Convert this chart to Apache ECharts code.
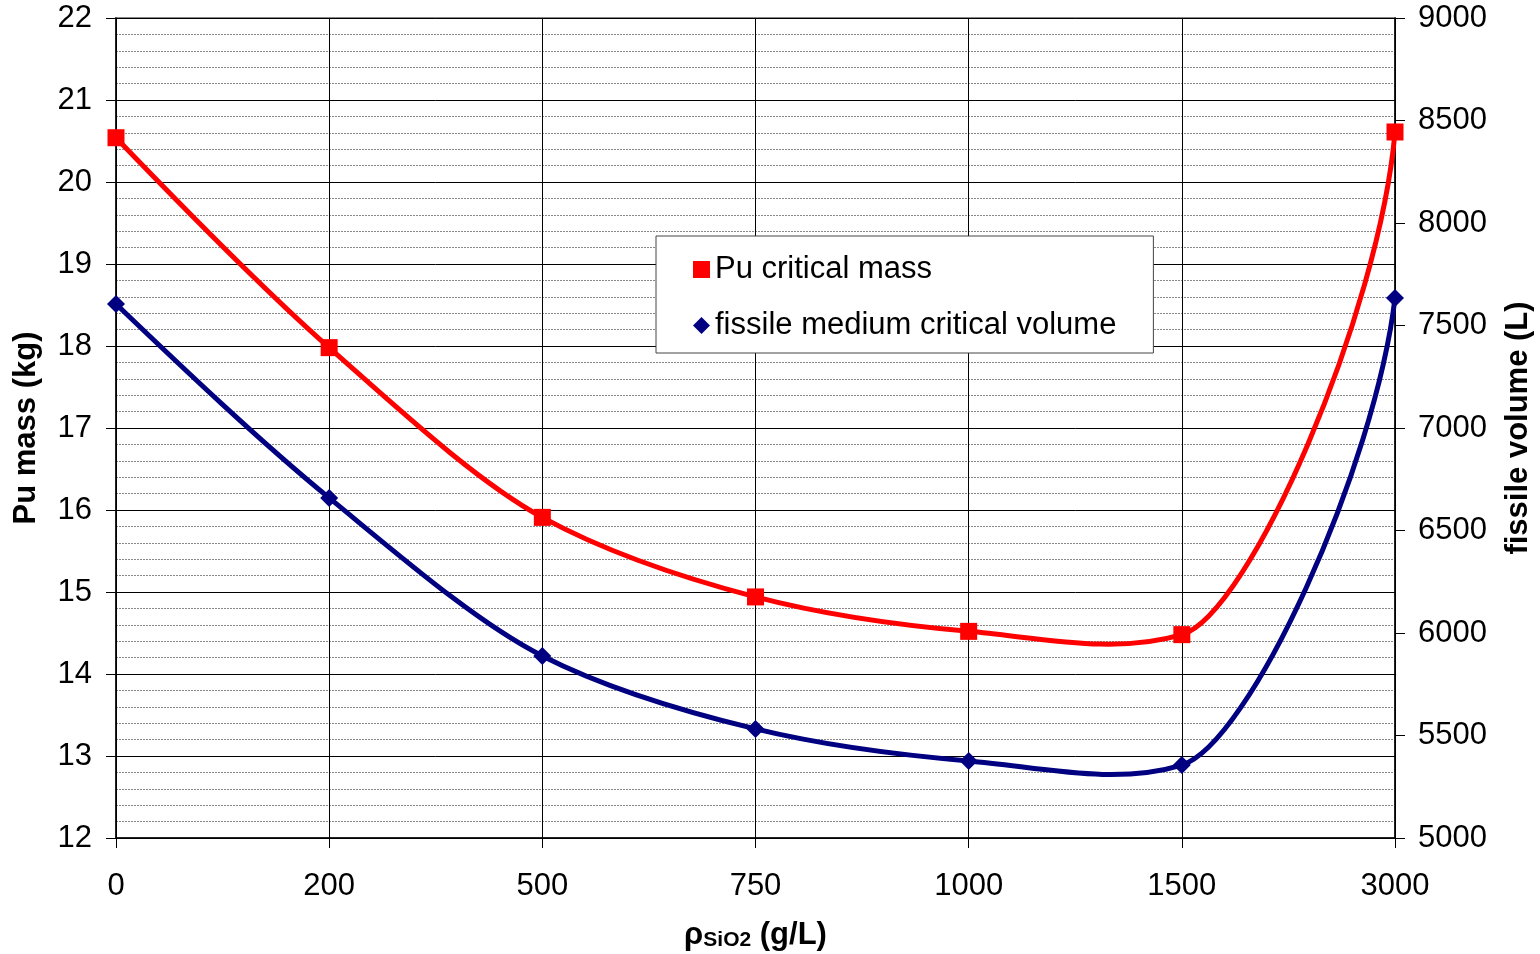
<!DOCTYPE html>
<html><head><meta charset="utf-8">
<script src="https://cdn.jsdelivr.net/npm/echarts@6/dist/echarts.min.js"></script>
<style>html,body{margin:0;padding:0;background:#fff}#c{width:1540px;height:954px}</style>
</head><body><div id="c"></div>
<script>
const categories = ['0','200','500','750','1000','1500','3000'];
const puMass = [20.54, 17.98, 15.91, 14.94, 14.52, 14.48, 20.61];
const fissileVolume = [7605, 6659, 5888, 5532, 5376, 5356, 7634];
const leftTicks = {min: 12, max: 22, interval: 1};
const rightTicks = {min: 5000, max: 9000, interval: 500};

const font = 'Liberation Sans, Arial, sans-serif';

// Smooth curve (spreadsheet-style) through points given by the axes' own coord().
function controlPoints(pts) {
  const n = pts.length;
  const d = [], u = [];
  for (let i = 0; i < n - 1; i++) {
    const dx = pts[i+1][0] - pts[i][0], dy = pts[i+1][1] - pts[i][1];
    const L = Math.hypot(dx, dy) || 1;
    d.push(L); u.push([dx / L, dy / L]);
  }
  const T = new Array(n), A = new Array(n);
  for (let i = 1; i < n - 1; i++) {
    let tx = u[i-1][0] * d[i] + u[i][0] * d[i-1];
    let ty = u[i-1][1] * d[i] + u[i][1] * d[i-1];
    const L = Math.hypot(tx, ty) || 1;
    T[i] = [tx / L, ty / L];
    A[i] = Math.min(d[i-1], d[i]) / 3;
  }
  function endT(uc, Tn) {
    let tx = 1.5 * uc[0] - 0.5 * Tn[0], ty = 1.5 * uc[1] - 0.5 * Tn[1];
    const L = Math.hypot(tx, ty) || 1;
    return [tx / L, ty / L];
  }
  T[0] = n > 2 ? endT(u[0], T[1]) : u[0];
  A[0] = d[0] / 3;
  T[n-1] = n > 2 ? endT(u[n-2], T[n-2]) : u[n-2];
  A[n-1] = d[n-2] / 3;
  return {T, A};
}
function smoothRenderer(values, color) {
  return function (params, api) {
    const i = params.dataIndex;
    if (i >= values.length - 1) return null;
    const pts = values.map((v, k) => api.coord([k, v]));
    const {T, A} = controlPoints(pts);
    const p0 = pts[i], p3 = pts[i+1];
    return {
      type: 'bezierCurve',
      shape: {
        x1: p0[0], y1: p0[1], x2: p3[0], y2: p3[1],
        cpx1: p0[0] + T[i][0] * A[i], cpy1: p0[1] + T[i][1] * A[i],
        cpx2: p3[0] - T[i+1][0] * A[i+1], cpy2: p3[1] - T[i+1][1] * A[i+1]
      },
      style: {stroke: color, lineWidth: 5, fill: null, lineCap: 'round'}
    };
  };
}

const chart = echarts.init(document.getElementById('c'));
chart.setOption({
  animation: false,
  textStyle: {fontFamily: font},
  grid: {left: 116, right: 145, top: 18, bottom: 116, containLabel: false, outerBoundsMode: 'none',
         show: true, borderColor: '#888', borderWidth: 2, backgroundColor: 'transparent'},
  legend: {
    left: 656, top: 236, orient: 'vertical',
    padding: [18, 37, 12, 37], itemGap: 25,
    backgroundColor: '#fff', borderColor: '#444', borderWidth: 1,
    itemWidth: 17, itemHeight: 17,
    textStyle: {fontSize: 31, color: '#000', fontFamily: font},
    data: [
      {name: 'Pu critical mass', icon: 'rect'},
      {name: 'fissile medium critical volume', icon: 'diamond'}
    ]
  },
  xAxis: {
    type: 'category', data: categories, boundaryGap: false,
    axisLine: {lineStyle: {color: '#000', width: 1.5}},
    axisTick: {show: true, length: 10, lineStyle: {color: '#000'}},
    axisLabel: {fontSize: 31, color: '#000', margin: 33},
    splitLine: {show: true, lineStyle: {color: '#000', width: 1}},
    name: '{a|ρ}{b|SiO2}{a| (g/L)}', nameLocation: 'middle', nameGap: 79,
    nameTextStyle: {rich: {
      a: {fontSize: 31, fontWeight: 'bold', color: '#000', fontFamily: font, verticalAlign: 'bottom', lineHeight: 34},
      b: {fontSize: 21, fontWeight: 'bold', color: '#000', fontFamily: font, verticalAlign: 'bottom', lineHeight: 28}
    }}
  },
  yAxis: [
    {
      type: 'value', min: leftTicks.min, max: leftTicks.max, interval: leftTicks.interval,
      axisLine: {show: true, lineStyle: {color: '#000', width: 1.5}},
      axisTick: {show: true, length: 10, lineStyle: {color: '#000'}},
      minorTick: {show: false, splitNumber: 5},
      axisLabel: {fontSize: 31, color: '#000', margin: 24},
      splitLine: {show: true, lineStyle: {color: '#000', width: 1}},
      minorSplitLine: {show: true, lineStyle: {color: '#888', width: 1, type: [2, 1]}},
      name: 'Pu mass (kg)', nameLocation: 'middle', nameGap: 74, nameRotate: 90,
      nameTextStyle: {fontSize: 31, fontWeight: 'bold', color: '#000'}
    },
    {
      type: 'value', min: rightTicks.min, max: rightTicks.max, interval: rightTicks.interval,
      position: 'right',
      axisLine: {show: true, lineStyle: {color: '#000', width: 1.5}},
      axisTick: {show: true, length: 10, lineStyle: {color: '#000'}},
      axisLabel: {fontSize: 31, color: '#000', margin: 23, formatter: v => String(v)},
      splitLine: {show: false},
      name: 'fissile volume (L)', nameLocation: 'middle', nameGap: 108, nameRotate: 90,
      nameTextStyle: {fontSize: 31, fontWeight: 'bold', color: '#000'}
    }
  ],
  series: [
    {
      name: 'Pu critical mass', type: 'line', yAxisIndex: 0, data: puMass,
      symbol: 'rect', symbolSize: 17,
      itemStyle: {color: '#ff0000'}, lineStyle: {opacity: 0}, z: 4
    },
    {
      name: 'fissile medium critical volume', type: 'line', yAxisIndex: 1, data: fissileVolume,
      symbol: 'diamond', symbolSize: 18,
      itemStyle: {color: '#000080'}, lineStyle: {opacity: 0}, z: 4
    },
    {
      name: 'Pu critical mass', type: 'custom', yAxisIndex: 0,
      data: puMass.map((v, i) => [i, v]), encode: {x: 0, y: 1},
      renderItem: smoothRenderer(puMass, '#ff0000'), z: 3, silent: true
    },
    {
      name: 'fissile medium critical volume', type: 'custom', yAxisIndex: 1,
      data: fissileVolume.map((v, i) => [i, v]), encode: {x: 0, y: 1},
      renderItem: smoothRenderer(fissileVolume, '#000080'), z: 3, silent: true
    }
  ]
});
</script></body></html>
